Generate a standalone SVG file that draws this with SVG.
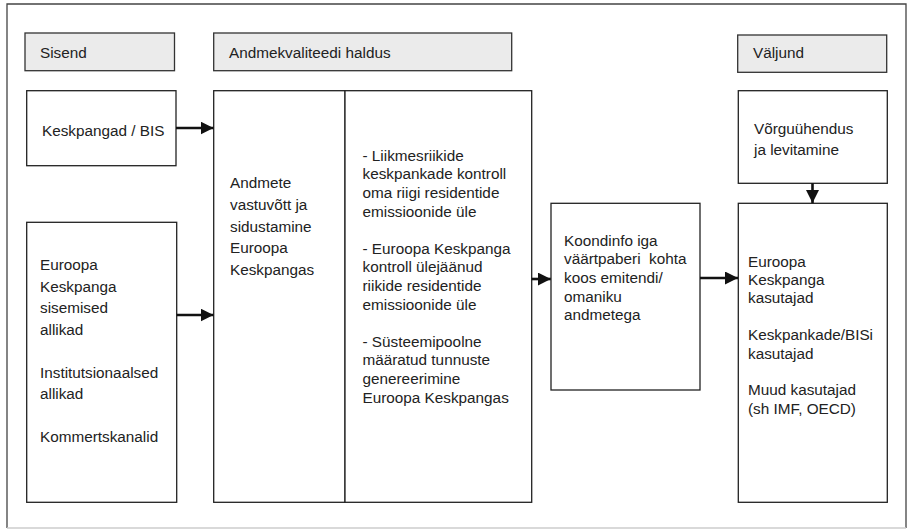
<svg xmlns="http://www.w3.org/2000/svg" width="908" height="529" viewBox="0 0 908 529">
<style>
text{font-family:"Liberation Sans",Arial,sans-serif;font-size:15.3px;fill:#222}
.box{fill:#fff;stroke:#222;stroke-width:1.3}
.hdr{fill:#ebebeb;stroke:#333;stroke-width:1.3}
.arr{stroke:#111;stroke-width:2.6;fill:none;marker-end:url(#ah)}
</style>
<defs>
<marker id="ah" markerUnits="userSpaceOnUse" markerWidth="14" markerHeight="14" refX="13" refY="6.5" orient="auto">
<path d="M0,0 L13,6.5 L0,13 Z" fill="#111"/>
</marker>
</defs>
<rect x="0" y="0" width="908" height="529" fill="#fff"/>
<path d="M7,528 L7,4 L906,4 L906,528" fill="none" stroke="#444" stroke-width="1.3"/>
<line x1="7" y1="528" x2="906" y2="528" stroke="#ccc" stroke-width="1.3"/>

<g id="sisend">
<rect class="hdr" x="25" y="33" width="149.5" height="37.7"/>
<text x="40" y="57.5">Sisend</text>
</g>
<g id="andmekvaliteet">
<rect class="hdr" x="213.7" y="33" width="298" height="37.7"/>
<text x="229" y="57.5">Andmekvaliteedi haldus</text>
</g>
<g id="valjund">
<rect class="hdr" x="737.7" y="35" width="149" height="37.3"/>
<text x="753" y="57.5">Väljund</text>
</g>

<g id="keskpangad">
<rect class="box" x="26.7" y="90.7" width="149.3" height="75"/>
<text x="42" y="136">Keskpangad / BIS</text>
</g>
<g id="ekp-allikad">
<rect class="box" x="26.7" y="222.3" width="150" height="280"/>
<text x="40">
<tspan x="40" y="270">Euroopa</tspan>
<tspan x="40" y="291.5">Keskpanga</tspan>
<tspan x="40" y="313">sisemised</tspan>
<tspan x="40" y="334.5">allikad</tspan>
<tspan x="40" y="377.5">Institutsionaalsed</tspan>
<tspan x="40" y="399">allikad</tspan>
<tspan x="40" y="442">Kommertskanalid</tspan>
</text>
</g>
<g id="andmete-vastuvott">
<rect class="box" x="213.7" y="90.7" width="131.3" height="411.6"/>
<text>
<tspan x="230" y="188.3">Andmete</tspan>
<tspan x="230" y="210">vastuvõtt ja</tspan>
<tspan x="230" y="231.7">sidustamine</tspan>
<tspan x="230" y="253.3">Euroopa</tspan>
<tspan x="230" y="275">Keskpangas</tspan>
</text>
</g>
<g id="kontroll">
<rect class="box" x="345" y="90.7" width="186.7" height="411.6"/>
<text>
<tspan x="362.5" y="160.7">- Liikmesriikide</tspan>
<tspan x="362.5" y="179.3">keskpankade kontroll</tspan>
<tspan x="362.5" y="197.9">oma riigi residentide</tspan>
<tspan x="362.5" y="216.5">emissioonide üle</tspan>
<tspan x="362.5" y="253.7">- Euroopa Keskpanga</tspan>
<tspan x="362.5" y="272.3">kontroll ülejäänud</tspan>
<tspan x="362.5" y="290.9">riikide residentide</tspan>
<tspan x="362.5" y="309.5">emissioonide üle</tspan>
<tspan x="362.5" y="346.7">- Süsteemipoolne</tspan>
<tspan x="362.5" y="365.3">määratud tunnuste</tspan>
<tspan x="362.5" y="383.9">genereerimine</tspan>
<tspan x="362.5" y="402.5">Euroopa Keskpangas</tspan>
</text>
</g>
<g id="koondinfo">
<rect class="box" x="551" y="203.3" width="149" height="186.7"/>
<text xml:space="preserve">
<tspan x="564" y="245.7">Koondinfo iga</tspan>
<tspan x="564" y="264.3">väärtpaberi  kohta</tspan>
<tspan x="564" y="282.9">koos emitendi/</tspan>
<tspan x="564" y="301.5">omaniku</tspan>
<tspan x="564" y="320.1">andmetega</tspan>
</text>
</g>
<g id="vorguuhendus">
<rect class="box" x="738.3" y="90.7" width="149" height="92.6"/>
<text>
<tspan x="754" y="134">Võrguühendus</tspan>
<tspan x="754" y="154.5">ja levitamine</tspan>
</text>
</g>
<g id="kasutajad">
<rect class="box" x="738.3" y="203.3" width="149" height="299"/>
<text>
<tspan x="748" y="266.5">Euroopa</tspan>
<tspan x="748" y="284.9">Keskpanga</tspan>
<tspan x="748" y="303.3">kasutajad</tspan>
<tspan x="748" y="340.1">Keskpankade/BISi</tspan>
<tspan x="748" y="358.5">kasutajad</tspan>
<tspan x="748" y="395.3">Muud kasutajad</tspan>
<tspan x="748" y="413.7">(sh IMF, OECD)</tspan>
</text>
</g>

<g id="connectors">
<line class="arr" x1="176" y1="128" x2="213.5" y2="128"/>
<line class="arr" x1="176.7" y1="315" x2="213.5" y2="315"/>
<line class="arr" x1="531.7" y1="279" x2="550.8" y2="279"/>
<line class="arr" x1="700" y1="278" x2="738" y2="278"/>
<line class="arr" x1="812.5" y1="183.3" x2="812.5" y2="203.1"/>
</g>
</svg>
